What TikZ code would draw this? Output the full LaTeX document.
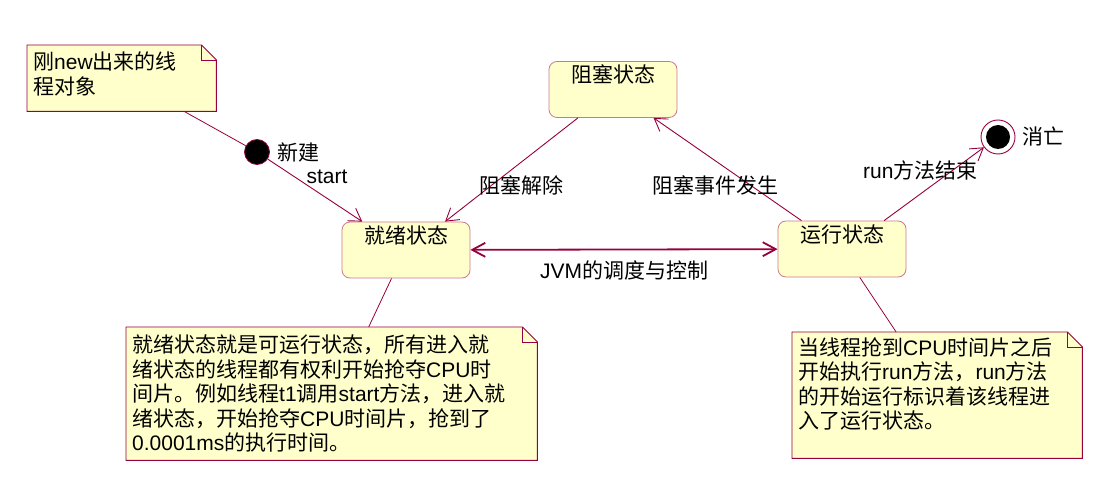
\documentclass[tikz,border=0pt]{standalone}
\usepackage{fontspec}
\setmainfont{Noto Sans CJK SC}
\newfontfamily\en{Liberation Sans}
\usetikzlibrary{arrows.meta,positioning,backgrounds}

\definecolor{umlline}{RGB}{150,0,60}
\definecolor{umlfill}{RGB}{255,255,204}
\definecolor{stateedge}{RGB}{205,120,145}

\begin{document}
\begin{tikzpicture}[x=1pt, y=-1pt,
    font=\fontsize{21}{24.5}\selectfont,
    state/.style={rectangle, rounded corners=8pt, draw=stateedge, fill=umlfill, line width=0.8pt, minimum width=128pt, minimum height=56pt, text height=18pt, text depth=31pt, inner ysep=3.5pt},
    note/.style={rectangle, anchor=north west, align=left, inner xsep=6pt, inner ysep=0pt},
    notebox/.style={draw=umlline, fill=umlfill, line width=0.9pt},
    lbl/.style={inner sep=0pt, text=black},
    arrow/.style={-{Straight Barb[length=12pt, width=15pt]}, umlline, line width=0.9pt},
    jvm/.style={{Straight Barb[length=13pt, width=14pt]}-{Straight Barb[length=13pt, width=14pt]}, umlline, line width=1.8pt},
    link/.style={umlline, line width=0.8pt}
]
\useasboundingbox (0,0) rectangle (1101,489);

\node (ready) [state] at (406,250) {就绪状态};
\node (blocked) [state] at (613,89.5) {阻塞状态};
\node (running) [state] at (842,249) {运行状态};

\node (init) [circle, draw=umlline, fill=black, line width=0.8pt, minimum size=25pt, inner sep=0pt] at (257,152) {};
\node (initLbl) [lbl, right=7pt of init] {新建};
\node (final) [circle, draw=umlline, fill=white, line width=0.9pt, minimum size=34pt, inner sep=0pt] at (998,137) {};
\node (finalDot) [circle, fill=black, minimum size=24pt, inner sep=0pt] at (final) {};
\node (finalLbl) [lbl, right=7pt of final] {消亡};

\node (noteNew) [note, text width=177pt, minimum height=66pt] at (27,45) {刚{\en new}出来的线\\程对象\\[-14pt]\mbox{}};
\node (noteReady) [note, text width=399pt, minimum height=133pt] at (126,327) {就绪状态就是可运行状态，所有进入就\\绪状态的线程都有权利开始抢夺{\en CPU}时\\间片。例如线程{\en t1}调用{\en start}方法，进入就\\绪状态，开始抢夺{\en CPU}时间片，抢到了\\{\en 0.0001ms}的执行时间。};
\node (noteRun) [note, text width=278pt, minimum height=126pt] at (792,332) {当线程抢到{\en CPU}时间片之后\\开始执行{\en run}方法，{\en run}方法\\的开始运行标识着该线程进\\入了运行状态。\\\mbox{}};

% note outlines with folded corner
\begin{scope}[on background layer]
\foreach \n in {noteNew,noteReady,noteRun}
  \draw[notebox] (\n.south west) -- (\n.north west) -- ([xshift=-15pt]\n.north east) -- ([yshift=-15pt]\n.north east) -- (\n.south east) -- cycle;
\end{scope}
\foreach \n in {noteNew,noteReady,noteRun}
  \draw[notebox, fill=none] ([xshift=-15pt]\n.north east) |- ([yshift=-15pt]\n.north east);

\draw [link] (noteNew.332.5) -- (init);
\draw [arrow] (init) -- node (startLbl) [lbl, xshift=12pt, yshift=14pt] {\en start} (ready.147);
\draw [arrow] (blocked.219.3) -- node (unblockLbl) [lbl, xshift=9.5pt, yshift=-15.5pt] {阻塞解除} (ready.36.4);
\draw [arrow] (running.145) -- node (blockLbl) [lbl, xshift=-12.5pt, yshift=-16pt] {阻塞事件发生} (blocked.325);
\draw [jvm] (ready) -- node (jvmLbl) [lbl, below=10pt] {{\en JVM}的调度与控制} (running);
\draw [arrow] (running.34.3) -- node (endLbl) [lbl, xshift=-13.7pt, yshift=13pt] {{\en run}方法结束} (final);
\draw [link] (ready.243.4) -- (noteReady.61.9);
\draw [link] (running.302.7) -- (noteRun.123.9);
\end{tikzpicture}
\end{document}
